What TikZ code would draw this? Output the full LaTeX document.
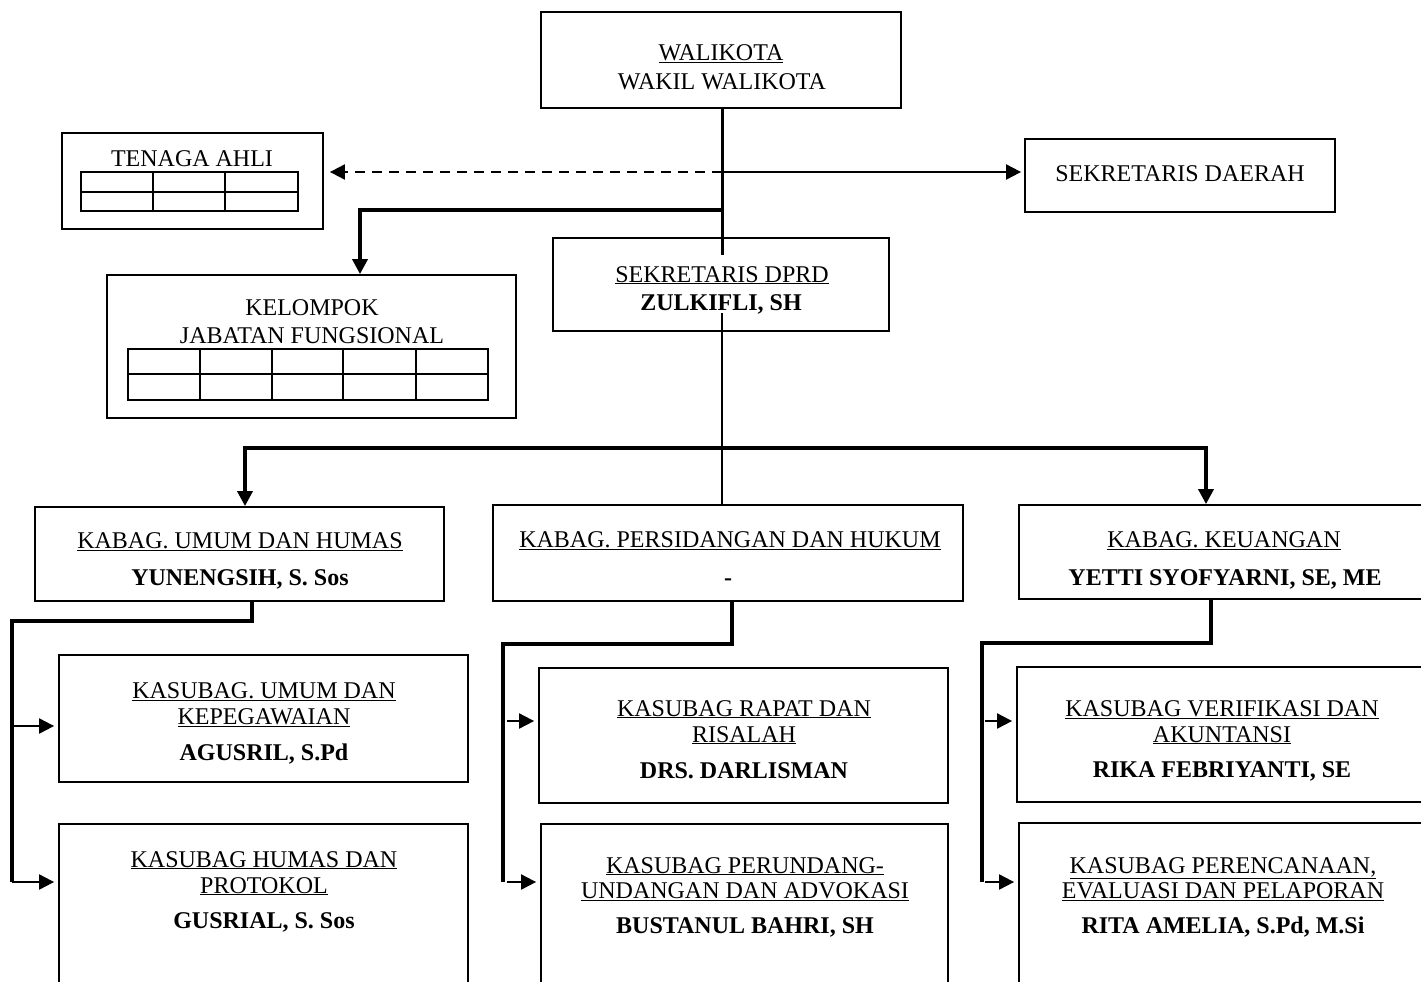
\documentclass[tikz,border=0pt]{standalone}
\usepackage{fontspec}
\setmainfont{Liberation Serif}
\usetikzlibrary{arrows.meta}
\tikzset{
  obox/.style={draw, line width=1.8pt, rectangle, inner sep=0pt},
  txt/.style={inner sep=0pt, anchor=base, font=\fontsize{24}{28}\selectfont},
  conn/.style={line width=3.5pt},
  thinconn/.style={line width=2pt},
  tip/.style={-{Triangle[length=15pt,width=15pt]}},
  dashconn/.style={line width=2pt, dash pattern=on 10pt off 7pt},
  tbl/.style={line width=1.5pt},
}
\newcommand{\mkbox}[5]{\node[obox, minimum width={#4pt-#2pt}, minimum height={#5pt-#3pt}] (#1) at ({(#2+#4)/2},{(#3+#5)/2}) {};}
\newcommand{\mkt}[4]{\node[txt] (#1) at (#2,#3) {#4};}
\begin{document}
\begin{tikzpicture}[x=1pt,y=-1pt]
\useasboundingbox (0,0) rectangle (1421,982);
% boxes
\mkbox{wali}{541}{12}{901}{108}
\mkbox{sekda}{1025}{139}{1335}{212}
\mkbox{tenaga}{62}{133}{323}{229}
\mkbox{kelompok}{107}{275}{516}{418}
\mkbox{dprd}{553}{238}{889}{331}
\mkbox{kumum}{35}{507}{444}{601}
\mkbox{kpers}{493}{505}{963}{601}
\mkbox{kkeu}{1019}{505}{1429}{599}
\mkbox{ksa}{59}{655}{468}{782}
\mkbox{ksb}{59}{824}{468}{995}
\mkbox{ksc}{539}{668}{948}{803}
\mkbox{ksd}{541}{824}{948}{995}
\mkbox{kse}{1017}{667}{1429}{802}
\mkbox{ksf}{1019}{823}{1429}{995}
% tables
\draw[tbl] (81,172) rectangle (298,211) (81,192) -- (298,192)
  (153,172) -- (153,211) (225,172) -- (225,211);
\draw[tbl] (128,349) rectangle (488,400) (128,374) -- (488,374)
  (200,349) -- (200,400) (272,349) -- (272,400)
  (343,349) -- (343,400) (416,349) -- (416,400);
% texts
\mkt{t1}{721}{60}{\underline{WALIKOTA}}
\mkt{t2}{722}{89}{WAKIL WALIKOTA}
\mkt{t3}{1180}{181}{SEKRETARIS DAERAH}
\mkt{t4}{192}{166}{TENAGA AHLI}
\mkt{t5}{312}{315}{KELOMPOK}
\mkt{t6}{312}{343}{JABATAN FUNGSIONAL}
\mkt{t7}{722}{282}{\underline{SEKRETARIS DPRD}}
\mkt{t8}{721}{310}{\textbf{ZULKIFLI, SH}}
\mkt{t9}{240}{548}{\underline{KABAG. UMUM DAN HUMAS}}
\mkt{t10}{240}{585}{\textbf{YUNENGSIH, S. Sos}}
\mkt{t11}{730}{547}{\underline{KABAG. PERSIDANGAN DAN HUKUM}}
\mkt{t12}{728}{585}{\textbf{-}}
\mkt{t13}{1224}{547}{\underline{KABAG. KEUANGAN}}
\mkt{t14}{1225}{585}{\textbf{YETTI SYOFYARNI, SE, ME}}
\mkt{t15}{264}{698}{\underline{KASUBAG. UMUM DAN}}
\mkt{t16}{264}{724}{\underline{KEPEGAWAIAN}}
\mkt{t17}{264}{760}{\textbf{AGUSRIL, S.Pd}}
\mkt{t18}{264}{867}{\underline{KASUBAG HUMAS DAN}}
\mkt{t19}{264}{893}{\underline{PROTOKOL}}
\mkt{t20}{264}{928}{\textbf{GUSRIAL, S. Sos}}
\mkt{t21}{744}{716}{\underline{KASUBAG RAPAT DAN}}
\mkt{t22}{744}{742}{\underline{RISALAH}}
\mkt{t23}{744}{778}{\textbf{DRS. DARLISMAN}}
\mkt{t24}{745}{873}{\underline{KASUBAG PERUNDANG-}}
\mkt{t25}{745}{898}{\underline{UNDANGAN DAN ADVOKASI}}
\mkt{t26}{745}{933}{\textbf{BUSTANUL BAHRI, SH}}
\mkt{t27}{1222}{716}{\underline{KASUBAG VERIFIKASI DAN}}
\mkt{t28}{1222}{742}{\underline{AKUNTANSI}}
\mkt{t29}{1222}{777}{\textbf{RIKA FEBRIYANTI, SE}}
\mkt{t30}{1223}{873}{\underline{KASUBAG PERENCANAAN,}}
\mkt{t31}{1223}{898}{\underline{EVALUASI DAN PELAPORAN}}
\mkt{t32}{1223}{933}{\textbf{RITA AMELIA, S.Pd, M.Si}}
% connector coordinates
\coordinate (j1) at (722,172);
\coordinate (j2) at (722,210);
\coordinate (jend) at (722,255);
\coordinate (k1) at (360,210);
\coordinate (d1) at (722,313);
\coordinate (hL) at (245,448);
\coordinate (hR) at (1206,448);
\coordinate (a1) at (252,621);
\coordinate (a2) at (12,621);
\coordinate (a3) at (12,726);
\coordinate (a4) at (12,882);
\coordinate (b1) at (732,644);
\coordinate (b2) at (503,644);
\coordinate (b3) at (507,721);
\coordinate (b4) at (507,882);
\coordinate (b5) at (503,882);
\coordinate (c1) at (1211,643);
\coordinate (c2) at (982,643);
\coordinate (c3) at (985,721);
\coordinate (c4) at (985,882);
\coordinate (c5) at (982,882);
% connectors
\draw[line width=3pt] (wali.south -| jend) -- (jend);
\draw[dashconn, tip, shorten >=6pt] (j1) -- (tenaga.east |- j1);
\draw[thinconn, tip, shorten >=3pt] (j1) -- (sekda.west |- j1);
\draw[conn, tip] (j2) -- (k1) -- (k1 |- kelompok.north);
\draw[thinconn] (d1) -- (d1 |- kpers.north);
\draw[conn, {Triangle[length=15pt,width=15pt]}-{Triangle[length=15pt,width=15pt]}]
  (kumum.north -| hL) -- (hL) -- (hR) -- (kkeu.north -| hR);
\draw[conn] (kumum.south -| a1) -- (a1) -- (a2) -- (a4);
\draw[thinconn, tip, shorten >=4pt] (a3) -- (ksa.west |- a3);
\draw[thinconn, tip, shorten >=4pt] (a4) -- (ksb.west |- a4);
\draw[conn] (kpers.south -| b1) -- (b1) -- (b2) -- (b5);
\draw[thinconn, tip, shorten >=4pt] (b3) -- (ksc.west |- b3);
\draw[thinconn, tip, shorten >=4pt] (b4) -- (ksd.west |- b4);
\draw[conn] (kkeu.south -| c1) -- (c1) -- (c2) -- (c5);
\draw[thinconn, tip, shorten >=4pt] (c3) -- (kse.west |- c3);
\draw[thinconn, tip, shorten >=4pt] (c4) -- (ksf.west |- c4);
\end{tikzpicture}
\end{document}
